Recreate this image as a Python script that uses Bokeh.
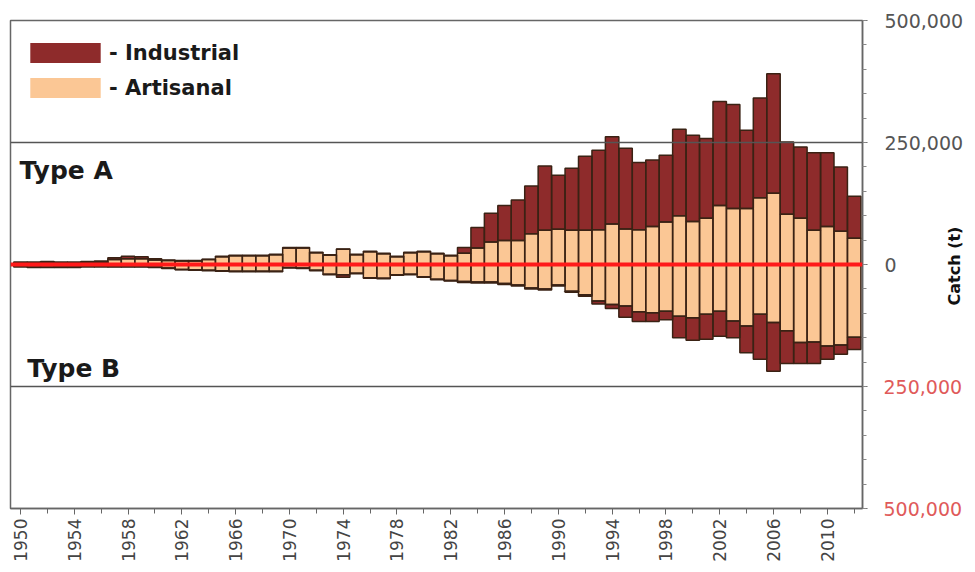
from math import pi
from bokeh.plotting import figure
from bokeh.models import (ColumnDataSource, FixedTicker, Span, Label, Legend,
                          LegendItem, Range1d, LinearAxis)
from bokeh.embed import file_html
from bokeh.resources import INLINE

# ---------------- data (thousand tonnes) ----------------
years = list(range(1950, 2013))

typeA_artisanal = [3, 3, 3, 3, 3, 3, 4, 10, 12, 12, 9, 8, 7, 7, 10, 16, 18, 18, 18, 20,
                   34, 34, 24, 19, 31, 20, 26, 22, 16, 24, 26, 22, 18, 23,
                   34, 46, 49, 49, 63, 70, 72, 70, 70, 71, 83, 73, 71, 78, 87, 100,
                   88, 95, 121, 115, 115, 137, 146, 103, 95, 70, 78, 68, 54]
typeA_industrial = [2, 2, 3, 2, 2, 3, 3, 4, 5, 4, 3, 1, 1, 1, 1, 1, 1, 1, 1, 1,
                    1, 1, 1, 1, 1, 1, 1, 1, 1, 1, 1, 1, 1, 12,
                    42, 59, 72, 83, 98, 132, 111, 127, 152, 163, 179, 165, 138, 136, 137, 177,
                    177, 163, 213, 213, 160, 204, 245, 148, 146, 159, 151, 132, 86]
typeB_artisanal = [2, 2, 2, 3, 3, 2, 2, 4, 4, 4, 5, 7, 10, 11, 12, 13, 14, 14, 14, 14,
                   6, 7, 12, 20, 21, 18, 27, 28, 21, 20, 25, 30, 33, 35,
                   36, 36, 39, 42, 48, 50, 42, 55, 62, 75, 82, 85, 97, 99, 96, 106,
                   109, 102, 96, 116, 126, 102, 119, 136, 160, 159, 167, 165, 149]
typeB_industrial = [3, 4, 4, 3, 3, 3, 3, 1, 1, 1, 1, 1, 1, 1, 1, 1, 1, 1, 1, 1,
                    1, 1, 1, 1, 5, 1, 1, 1, 1, 1, 1, 1, 1, 2,
                    2, 2, 2, 2, 2, 2, 2, 2, 3, 6, 8, 23, 20, 18, 17, 44,
                    46, 51, 51, 34, 55, 92, 100, 67, 43, 44, 27, 19, 25]

year_ticks = list(range(1950, 2011, 4))
year_minor_ticks = list(range(1950, 2013, 2))
catch_ticks = [-500000, -250000, 0, 250000, 500000]
catch_labels = ["500,000", "250,000", "0", "250,000", "500,000"]

# ---------------- source ----------------
K = 1000
a_art = [v * K for v in typeA_artisanal]
a_ind = [v * K for v in typeA_industrial]
b_art = [v * K for v in typeB_artisanal]
b_ind = [v * K for v in typeB_industrial]

src = ColumnDataSource(dict(
    year=years,
    zero=[0] * len(years),
    a_art_top=a_art,
    a_ind_top=[a + i for a, i in zip(a_art, a_ind)],
    b_art_bot=[-b for b in b_art],
    b_ind_bot=[-(b + i) for b, i in zip(b_art, b_ind)],
))

IND = "#8e2b2b"
ART = "#fbc795"
EDGE = "#3a2214"
FONT = "DejaVu Sans"

p = figure(frame_width=852, frame_height=488,
           x_range=Range1d(1949.26, 2012.62),
           y_range=Range1d(-500000, 500000),
           y_axis_location="right",
           output_backend="svg", toolbar_location=None,
           min_border_left=10, min_border_top=20,
           min_border_right=105, min_border_bottom=56,
           background_fill_color="white", border_fill_color="white")

p.xgrid.visible = False
p.ygrid.visible = False
p.outline_line_color = "#666666"
p.outline_line_width = 1.5

# fills
r_a_art = p.vbar(x="year", width=1.0, bottom="zero", top="a_art_top", source=src,
                 fill_color=ART, line_color=None)
r_a_ind = p.vbar(x="year", width=1.0, bottom="a_art_top", top="a_ind_top", source=src,
                 fill_color=IND, line_color=None)
p.vbar(x="year", width=1.0, top="zero", bottom="b_art_bot", source=src,
       fill_color=ART, line_color=None)
p.vbar(x="year", width=1.0, top="b_art_bot", bottom="b_ind_bot", source=src,
       fill_color=IND, line_color=None)
# outlines
for bot, top in [("zero", "a_art_top"), ("a_art_top", "a_ind_top"),
                 ("b_art_bot", "zero"), ("b_ind_bot", "b_art_bot")]:
    p.vbar(x="year", width=1.0, bottom=bot, top=top, source=src,
           fill_color=None, line_color=EDGE, line_width=1.5)

# reference lines
for loc in (250000, -250000):
    p.add_layout(Span(location=loc, dimension="width", line_color="#555555",
                      line_width=1.5))
p.add_layout(Span(location=0, dimension="width", line_color="#ff1a1a", line_width=4))

# x axis
xa = p.xaxis[0]
xa.ticker = FixedTicker(ticks=year_ticks, minor_ticks=year_minor_ticks)
xa.major_label_orientation = pi / 2
xa.major_label_text_font = FONT
xa.major_label_text_font_size = "17px"
xa.major_label_text_color = "#444444"
xa.axis_line_color = "#666666"
xa.axis_line_width = 1.5
xa.major_tick_line_color = "#666666"
xa.minor_tick_line_color = "#666666"
xa.major_tick_out = 6
xa.major_tick_in = 0
xa.minor_tick_out = 5
xa.minor_tick_in = 0
xa.major_label_standoff = 4

# right axis (positive labels, grey)
ya = p.yaxis[0]
ya.ticker = FixedTicker(ticks=catch_ticks,
                        minor_ticks=list(range(-500000, 500001, 50000)))
ya.major_label_overrides = {t: (lab if t >= 0 else " ")
                            for t, lab in zip(catch_ticks, catch_labels)}
ya.major_label_text_font = FONT
ya.major_label_text_font_size = "19px"
ya.major_label_text_color = "#555555"
ya.axis_line_color = "#666666"
ya.axis_line_width = 1.5
ya.major_tick_line_color = "#666666"
ya.minor_tick_line_color = "#888888"
ya.major_tick_out = 5
ya.major_tick_in = 0
ya.minor_tick_out = 4
ya.minor_tick_in = 0
ya.major_label_standoff = 17

# second right axis for negative labels (red), pulled back over the first
neg_ticks = [t for t in catch_ticks if t < 0]
ya2 = LinearAxis(ticker=FixedTicker(ticks=neg_ticks, minor_ticks=[]),
                 major_label_overrides={t: lab for t, lab in zip(catch_ticks, catch_labels) if t < 0},
                 major_label_text_font=FONT, major_label_text_font_size="19px",
                 major_label_text_color="#e05a5a",
                 axis_line_color=None, major_tick_line_color=None,
                 minor_tick_line_color=None, major_tick_out=0, major_tick_in=0,
                 major_label_standoff=-83)
p.add_layout(ya2, "right")

# axis title "Catch (t)" (reads bottom-to-top, starts just below the zero line)
title_anchor = -84000
ya3 = LinearAxis(ticker=FixedTicker(ticks=[title_anchor], minor_ticks=[]),
                 major_label_overrides={title_anchor: "Catch (t)"},
                 major_label_orientation=pi / 2,
                 major_label_text_font=FONT, major_label_text_font_size="16px",
                 major_label_text_font_style="bold",
                 major_label_text_color="#111111",
                 axis_line_color=None, major_tick_line_color=None,
                 minor_tick_line_color=None, major_tick_out=0, major_tick_in=0,
                 major_label_standoff=-12)
p.add_layout(ya3, "right")

p.add_layout(Label(x=1949.93, y=193000, text="Type A", text_baseline="middle",
                   text_font=FONT, text_font_size="25px", text_font_style="bold",
                   text_color="#1a1a1a"))
p.add_layout(Label(x=1950.5, y=-213000, text="Type B", text_baseline="middle",
                   text_font=FONT, text_font_size="25px", text_font_style="bold",
                   text_color="#1a1a1a"))

legend = Legend(items=[LegendItem(label="- Industrial", renderers=[r_a_ind]),
                       LegendItem(label="- Artisanal", renderers=[r_a_art])],
                location=(11, 408), glyph_width=88, glyph_height=25,
                spacing=10, padding=0, margin=0, label_standoff=0,
                label_text_font=FONT, label_text_font_size="21px",
                label_text_font_style="bold", label_text_color="#1a1a1a",
                border_line_color=None, background_fill_alpha=0)
p.add_layout(legend)

open("out.html", "w").write(file_html(p, INLINE))
